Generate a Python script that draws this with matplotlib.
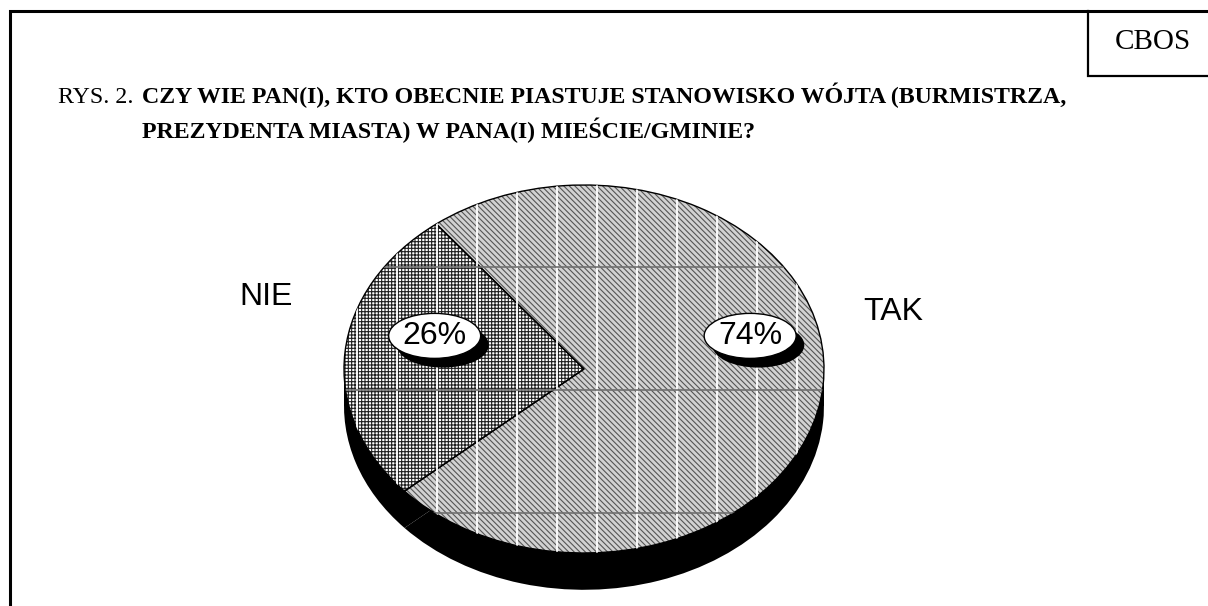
import numpy as np
import matplotlib
matplotlib.use('Agg')
import matplotlib.pyplot as plt
from matplotlib.patches import Rectangle, Ellipse, Circle

# data
answers = ['NIE', 'TAK']
shares = [26, 74]
pct_labels = ['26%', '74%']
title_prefix = 'RYS. 2.'
title_lines = ['CZY WIE PAN(I), KTO OBECNIE PIASTUJE STANOWISKO WÓJTA (BURMISTRZA,',
               'PREZYDENTA MIASTA) W PANA(I) MIEŚCIE/GMINIE?']
source = 'CBOS'

W, H = 1208, 606
plt.rcParams['hatch.linewidth'] = 0.8

fig = plt.figure(figsize=(W / 100, H / 100), dpi=100)

# background axes in pixel units, for frame and heading
bg = fig.add_axes([0, 0, 1, 1])
bg.set_xlim(0, W)
bg.set_ylim(H, 0)
bg.axis('off')
bg.plot([10, 10, W + 5], [H + 5, 11, 11], color='black', lw=2.2, solid_joinstyle='miter')
bg.plot([1088, 1088, W + 5], [11, 76, 76], color='black', lw=1.6, solid_joinstyle='miter')
bg.text(1153, 42, source, fontsize=21, family='Liberation Serif', ha='center', va='center')
bg.text(58, 103, title_prefix, fontsize=17.2, family='Liberation Serif', va='baseline')
bg.text(142, 103, title_lines[0], fontsize=17.2, family='Liberation Serif',
        fontweight='bold', va='baseline')
bg.text(142, 138, title_lines[1], fontsize=17.2, family='Liberation Serif',
        fontweight='bold', va='baseline')

# pie geometry (pixels)
cx, cy, a, b = 584, 369, 240, 184
depth = 0.2
x0, x1, y0, y1 = -1.1, 1.1, -1.3, 1.1
ax = fig.add_axes([(cx + x0 * a) / W, (H - (cy - y0 * b)) / H,
                   (x1 - x0) * a / W, (y1 - y0) * b / H])
start = 128

# side of the "3D" pie
ax.pie(shares, radius=1, center=(0, -depth), startangle=start, counterclock=True,
       colors=['black', 'black'], wedgeprops={'linewidth': 0})
ax.add_patch(Rectangle((-1, -depth), 2, depth, facecolor='black', lw=0))

# top surface with hatches
wedges, _ = ax.pie(shares, radius=1, startangle=start, counterclock=True,
                   colors=['white', '#d2d2d2'], hatch=['+++++', '\\' * 6],
                   wedgeprops={'linewidth': 0})
wedges[0].set_edgecolor('#202020')
wedges[1].set_edgecolor('#555555')
wedges[0].set_linewidth(0)
wedges[1].set_linewidth(0)

# grid texture over the top
clip = Circle((0, 0), 1, transform=ax.transData, facecolor='none', lw=0)
ax.add_patch(clip)
for xv in np.arange(-1.0, 1.0, 1 / 6) + 0.054:
    ln, = ax.plot([xv, xv], [-1, 1], color='white', lw=1.3)
    ln.set_clip_path(clip)
for yv in np.arange(-0.78, 1.0, 0.668):
    ln, = ax.plot([-1, 1], [yv, yv], color='#707070', lw=1.2)
    ln.set_clip_path(clip)

# outlines
ax.pie(shares, radius=1, startangle=start, counterclock=True,
       colors=['none', 'none'], wedgeprops={'linewidth': 1.0, 'edgecolor': 'black'})

# percent labels in white ovals with shadow
angles = np.cumsum([0] + shares) / 100 * 360 + start
mids = np.deg2rad((angles[:-1] + angles[1:]) / 2)
ew, eh = 92 / a, 45 / b
for m, txt in zip(mids, pct_labels):
    px, py = 0.66 * np.cos(m) + 0.035, 0.18
    ax.add_patch(Ellipse((px + 0.034, py - 0.05), ew, eh, facecolor='black', lw=0, zorder=5))
    ax.add_patch(Ellipse((px, py), ew, eh, facecolor='white', edgecolor='black', lw=1, zorder=6))
    ax.text(px, py, txt, fontsize=23, family='Liberation Sans', ha='center', va='center',
            zorder=7)

# category labels
ax.text(-1.325, 0.39, answers[0], fontsize=23, family='Liberation Sans', ha='center', va='center')
ax.text(1.29, 0.31, answers[1], fontsize=23, family='Liberation Sans', ha='center', va='center')

ax.set_aspect('auto')
ax.set_xlim(x0, x1)
ax.set_ylim(y0, y1)
ax.axis('off')

fig.savefig('out.png', dpi=100, facecolor='white')
